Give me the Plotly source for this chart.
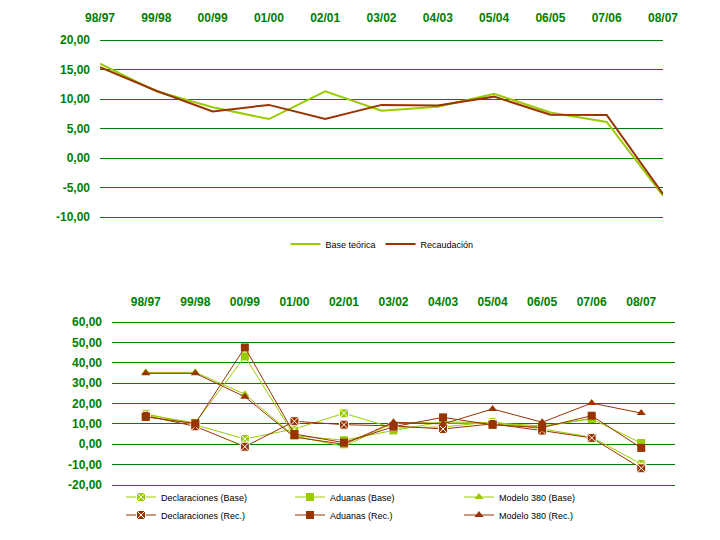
import plotly.graph_objects as go

categories = ["98/97", "99/98", "00/99", "01/00", "02/01", "03/02",
              "04/03", "05/04", "06/05", "07/06", "08/07"]

# Top chart
base_teorica = [16.0, 11.3, 8.6, 6.6, 11.3, 8.0, 8.7, 10.9, 7.7, 6.1, -6.4]
recaudacion = [15.4, 11.4, 7.9, 9.0, 6.6, 9.0, 8.9, 10.4, 7.35, 7.3, -6.1]
top_tickvals = [-10, -5, 0, 5, 10, 15, 20]
top_ticktext = ["-10,00", "-5,00", "0,00", "5,00", "10,00", "15,00", "20,00"]

# Bottom chart
decl_base = [15.0, 9.5, 2.6, 7.5, 15.2, 8.0, 8.5, 11.0, 7.5, 3.5, -9.7]
aduanas_base = [14.5, 10.5, 43.1, 4.2, 2.0, 6.8, 11.0, 10.5, 9.0, 12.4, 0.6]
modelo_base = [35.3, 35.3, 24.6, 4.0, -1.0, 10.5, 10.5, 10.0, 8.5, 12.8, None]
decl_rec = [14.0, 8.8, -1.2, 11.3, 9.6, 9.0, 7.5, 10.0, 6.7, 3.1, -11.8]
aduanas_rec = [13.4, 10.2, 47.5, 5.0, 0.8, 8.6, 13.2, 9.5, 8.2, 14.0, -1.8]
modelo_rec = [34.8, 34.8, 23.3, 3.5, 0.0, 10.8, 10.0, 17.3, 10.8, 20.2, 15.3]
bot_tickvals = [-20, -10, 0, 10, 20, 30, 40, 50, 60]
bot_ticktext = ["-20,00", "-10,00", "0,00", "10,00", "20,00", "30,00",
                "40,00", "50,00", "60,00"]

GREEN = "#99CC00"
BROWN = "#993300"
DARK = "#008000"
W, H = 720, 540
OFF = 8  # page body margin offset
EXT = 2  # px of padding so edge gridlines are drawn

fig = go.Figure()

fig.add_trace(go.Scatter(x=categories, y=base_teorica, name="Base teórica",
                         mode="lines", line=dict(color=GREEN, width=2),
                         xaxis="x", yaxis="y", legend="legend"))
fig.add_trace(go.Scatter(x=categories, y=recaudacion, name="Recaudación",
                         mode="lines", line=dict(color=BROWN, width=2),
                         xaxis="x", yaxis="y", legend="legend"))

def add_bottom(y, name, color, symbol, legend):
    if symbol == "square-x":
        marker = dict(symbol="square-x", size=9, color=color,
                      line=dict(color="white", width=1))
    elif symbol == "square":
        marker = dict(symbol="square", size=8, color=color,
                      line=dict(width=0))
    else:
        marker = dict(symbol="triangle-up", size=8, color=color,
                      line=dict(width=0))
    fig.add_trace(go.Scatter(x=categories, y=y, name=name, mode="lines+markers",
                             line=dict(color=color, width=1), marker=marker,
                             xaxis="x2", yaxis="y2", legend=legend,
                             connectgaps=False))

add_bottom(decl_base, "Declaraciones (Base)", GREEN, "square-x", "legend2")
add_bottom(aduanas_base, "Aduanas (Base)", GREEN, "square", "legend2")
add_bottom(modelo_base, "Modelo 380 (Base)", GREEN, "triangle", "legend2")
add_bottom(decl_rec, "Declaraciones (Rec.)", BROWN, "square-x", "legend3")
add_bottom(aduanas_rec, "Aduanas (Rec.)", BROWN, "square", "legend3")
add_bottom(modelo_rec, "Modelo 380 (Rec.)", BROWN, "triangle", "legend3")

tickfont = dict(family="Liberation Sans, Arial, sans-serif", size=12,
                color=DARK, weight="bold")
legfont = dict(family="Liberation Sans, Arial, sans-serif", size=9,
               color="black")

def px_x(a, b):
    return [(a - OFF) / W, (b - OFF) / W]

def px_y(top, bottom):
    return [1 - (bottom + EXT - OFF) / H, 1 - (top - EXT - OFF) / H]

def padded(lo, hi, top, bottom):
    u = (hi - lo) / (bottom - top) * EXT
    return [lo - u, hi + u]

ycommon = dict(showgrid=True, gridcolor=DARK, gridwidth=1, zeroline=True,
               zerolinecolor=DARK, zerolinewidth=1, showline=False,
               ticks="", tickfont=tickfont, ticklabelstandoff=9,
               automargin=False, fixedrange=True)

def xaxis_cfg(domain, anchor, standoff):
    return dict(domain=domain, anchor=anchor, type="category", side="top",
                showgrid=False, zeroline=False, showline=False, ticks="",
                tickfont=tickfont, ticklabelstandoff=standoff,
                automargin=False, fixedrange=True)

fig.update_layout(
    width=W, height=H,
    margin=dict(l=0, r=0, t=0, b=0),
    paper_bgcolor="white", plot_bgcolor="white",
    xaxis=xaxis_cfg(px_x(100, 663), "y", 11 + EXT),
    yaxis=dict(domain=px_y(40, 217), anchor="x", range=padded(-10, 20, 40, 217),
               tickvals=top_tickvals, ticktext=top_ticktext, **ycommon),
    xaxis2=xaxis_cfg(px_x(112, 675), "y2", 9 + EXT),
    yaxis2=dict(domain=px_y(322, 485), anchor="x2",
                range=padded(-20, 60, 322, 485),
                tickvals=bot_tickvals, ticktext=bot_ticktext, **ycommon),
    legend=dict(orientation="h", x=(382 - OFF) / W, xanchor="center",
                y=1 - (244 - OFF) / H, yanchor="middle", font=legfont,
                itemwidth=30, bgcolor="rgba(0,0,0,0)"),
    legend2=dict(orientation="h", x=(121 - OFF) / W, xanchor="left",
                 y=1 - (497 - OFF) / H, yanchor="middle", font=legfont,
                 itemwidth=30, entrywidth=124, entrywidthmode="pixels",
                 bgcolor="rgba(0,0,0,0)"),
    legend3=dict(orientation="h", x=(121 - OFF) / W, xanchor="left",
                 y=1 - (515 - OFF) / H, yanchor="middle", font=legfont,
                 itemwidth=30, entrywidth=124, entrywidthmode="pixels",
                 bgcolor="rgba(0,0,0,0)"),
    showlegend=True,
)

fig.write_html("out.html")
